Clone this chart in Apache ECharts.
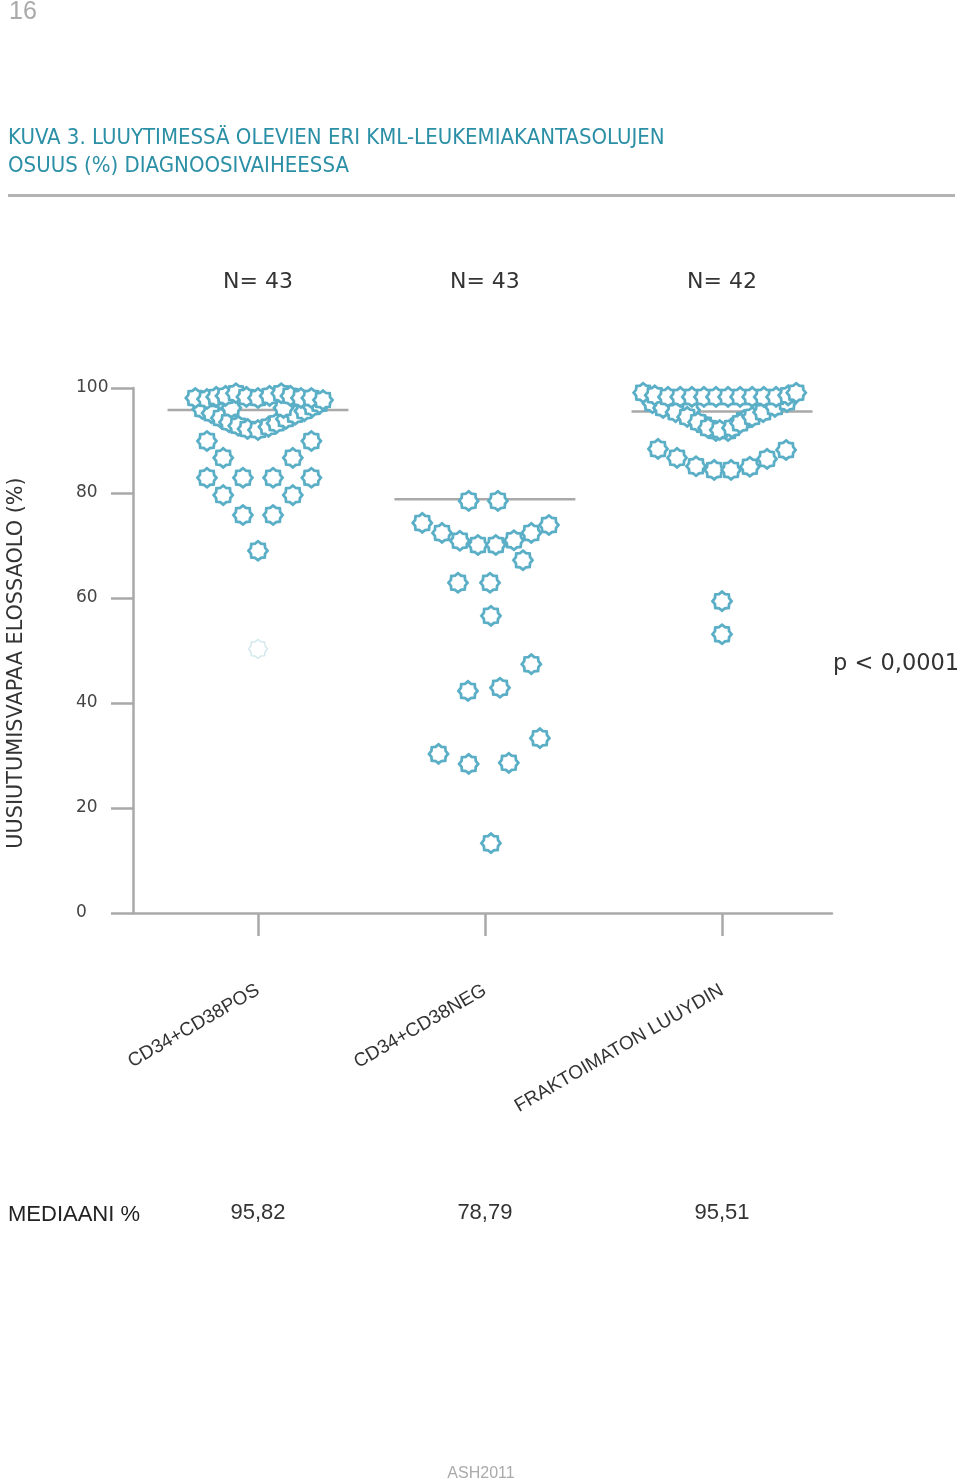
<!DOCTYPE html>
<html><head><meta charset="utf-8">
<script src="https://cdn.jsdelivr.net/npm/echarts@6/dist/echarts.min.js"></script>
<style>html,body{margin:0;padding:0;background:#fff}#c{width:960px;height:1483px}</style>
</head><body><div id="c"></div>
<script>
// ---------- data ----------
const categories = ['CD34+CD38POS', 'CD34+CD38NEG', 'FRAKTOIMATON LUUYDIN'];
const groupCenters = [1, 1.978, 3];
const nLabels = ['N= 43', 'N= 43', 'N= 42'];
const medians = [95.82, 78.79, 95.51];
const medianLabels = ['95,82', '78,79', '95,51'];
const yTicks = [0, 20, 40, 60, 80, 100];
const pValueText = 'p < 0,0001';
const pageNumber = '16';
const titleLines = ['KUVA 3. LUUYTIMESSÄ OLEVIEN ERI KML-LEUKEMIAKANTASOLUJEN', 'OSUUS (%) DIAGNOOSIVAIHEESSA'];
const yAxisTitle = 'UUSIUTUMISVAPAA ELOSSAOLO (%)';
const medianRowLabel = 'MEDIAANI %';
const sourceText = 'ASH2011';

// points: [horizontal jitter from group centre, value %]
const group1 = [
  [-0.22, 89.9], [0.23, 89.9], [-0.15, 86.7], [0.15, 86.7], [-0.22, 82.9], [-0.065, 82.9],
  [0.065, 82.9], [0.23, 82.9], [-0.15, 79.6], [0.15, 79.6], [-0.065, 75.8], [0.065, 75.8], [0, 69.0],
  [-0.24, 96.0], [-0.2, 95.2], [-0.16, 94.3], [-0.125, 93.5], [-0.085, 92.8], [-0.045, 92.2], [0, 92.0],
  [0.045, 92.6], [0.08, 93.3], [0.12, 94.1], [0.16, 94.9], [0.2, 95.6], [0.235, 96.4], [0.265, 97.0],
  [-0.115, 96.2], [0.11, 96.2],
  [-0.27, 98.1], [-0.22, 97.9], [-0.18, 98.3], [-0.14, 98.5], [-0.095, 99.0], [-0.05, 98.3], [0, 98.1],
  [0.05, 98.5], [0.1, 99.0], [0.14, 98.5], [0.185, 98.1], [0.23, 98.1], [0.28, 97.7]
];
const group1Faint = [[0, 50.3]];
const group2 = [
  [-0.07, 78.5], [0.056, 78.5], [-0.27, 74.3], [-0.185, 72.4], [-0.108, 70.9], [-0.03, 70.1],
  [0.047, 70.1], [0.125, 71.0], [0.2, 72.4], [0.276, 73.9], [0.164, 67.2], [-0.116, 62.9], [0.022, 62.9],
  [0.026, 56.6], [0.2, 47.4], [0.065, 42.9], [-0.073, 42.3], [0.237, 33.3], [-0.2, 30.3], [-0.07, 28.4],
  [0.103, 28.6], [0.026, 13.3]
];
const group3 = [
  [0, 59.4], [0, 53.1],
  [-0.276, 88.4], [-0.194, 86.7], [-0.112, 85.1], [-0.034, 84.4], [0.039, 84.4], [0.12, 85.0], [0.194, 86.5], [0.276, 88.2],
  [-0.078, 93.0], [-0.026, 91.8], [0.026, 91.8], [0.095, 93.9], [-0.138, 95.8],
  [-0.3, 97.1], [-0.254, 96.2], [-0.2, 95.4], [-0.15, 94.5], [-0.103, 93.5], [-0.06, 92.4], [-0.01, 92.0],
  [0.043, 92.4], [0.078, 93.3], [0.13, 94.5], [0.177, 95.4], [0.228, 96.4], [0.28, 97.3],
  [-0.34, 99.1], [-0.29, 98.6], [-0.233, 98.3], [-0.18, 98.3], [-0.13, 98.3], [-0.078, 98.3], [-0.026, 98.3],
  [0.026, 98.3], [0.078, 98.3], [0.13, 98.3], [0.18, 98.3], [0.233, 98.3], [0.285, 98.6], [0.32, 99.1]
];

// ---------- styling / build ----------
const TEAL = '#5aafc7';
const GREY = '#a9a9a9';
const medianHalfWidth = 0.39;
const SANS = '"Liberation Sans", Arial, sans-serif';
const DEJAVU = '"DejaVu Sans", sans-serif';

// 8-point star outline symbol
function starPath() {
  const pts = [];
  for (let i = 0; i < 16; i++) {
    const a = i * Math.PI / 8 - Math.PI / 2;
    const r = i % 2 === 0 ? 10 : 8.1;
    pts.push((10 + r * Math.cos(a)).toFixed(3) + ' ' + (10 + r * Math.sin(a)).toFixed(3));
  }
  return 'path://M' + pts.join(' L') + ' Z';
}
const STAR = starPath();

const groups = [group1, group2, group3];
const series = [];
medians.forEach((m, i) => {
  series.push({
    type: 'line', silent: true, symbol: 'none', z: 1,
    data: [[groupCenters[i] - medianHalfWidth, m], [groupCenters[i] + medianHalfWidth, m]],
    lineStyle: { color: GREY, width: 2.5 }
  });
});
groups.forEach((g, i) => {
  series.push({
    type: 'scatter', z: 3, symbol: STAR, symbolSize: 19, silent: true,
    data: g.map(p => [groupCenters[i] + p[0], p[1]]),
    itemStyle: { color: '#ffffff', borderColor: TEAL, borderWidth: 2.8, opacity: 1 }
  });
});
series.push({
  type: 'scatter', z: 2, symbol: STAR, symbolSize: 19, silent: true,
  data: group1Faint.map(p => [groupCenters[0] + p[0], p[1]]),
  itemStyle: { color: '#ffffff', borderColor: '#c6e1e9', borderWidth: 1.4 }
});

function nearestIdx(v) {
  let best = 0;
  groupCenters.forEach((c, i) => { if (Math.abs(c - v) < Math.abs(groupCenters[best] - v)) best = i; });
  return best;
}

const chart = echarts.init(document.getElementById('c'), null, { renderer: 'canvas' });
const option = {
  backgroundColor: '#ffffff',
  animation: false,
  grid: { left: 133, top: 388, width: 699, height: 525, containLabel: false, outerBoundsMode: 'none' },
  xAxis: {
    type: 'value', min: 0.4612, max: 3.474,
    splitLine: { show: false },
    axisLine: { show: true, onZero: false, lineStyle: { color: GREY, width: 2.5 } },
    axisTick: { show: true, customValues: groupCenters, length: 23, inside: false, lineStyle: { color: GREY, width: 2.5 } },
    axisLabel: {
      show: true, customValues: groupCenters, rotate: 30, margin: 76,
      fontFamily: SANS, fontSize: 19, color: '#333',
      formatter: v => categories[nearestIdx(v)]
    }
  },
  yAxis: {
    type: 'value', min: 0, max: 100, interval: 20,
    splitLine: { show: false },
    axisLine: { show: true, lineStyle: { color: GREY, width: 2.5 } },
    axisTick: { show: true, length: 22, lineStyle: { color: GREY, width: 2.5 } },
    axisLabel: {
      align: 'left', margin: 57, fontFamily: DEJAVU, fontSize: 17, color: '#444',
      formatter: v => yTicks.includes(v) ? String(v) : ''
    }
  },
  series: series
};
chart.setOption(option);

// text decorations positioned from the chart's own scale
const gfx = [];
gfx.push({ type: 'text', left: 9, top: 0, style: { text: pageNumber, font: '25px ' + SANS, fill: '#aaaaaa' } });
titleLines.forEach((t, i) => {
  gfx.push({ type: 'text', x: 8, y: 138 + i * 28, style: { text: t, font: '22px "Liberation Sans Narrow", "DejaVu Sans Condensed", sans-serif', fill: '#2b8fa6', textVerticalAlign: 'middle' } });
});
gfx.push({ type: 'rect', shape: { x: 8, y: 194, width: 947, height: 3 }, style: { fill: '#b3b3b3' } });
groupCenters.forEach((c, i) => {
  const px = chart.convertToPixel({ xAxisIndex: 0 }, c);
  gfx.push({ type: 'text', x: px, y: 282, style: { text: nLabels[i], font: '22px ' + DEJAVU, fill: '#333', textAlign: 'center', textVerticalAlign: 'middle' } });
  gfx.push({ type: 'text', x: px, y: 1213, style: { text: medianLabels[i], font: '22px ' + SANS, fill: '#333', textAlign: 'center', textVerticalAlign: 'middle' } });
});
gfx.push({ type: 'text', x: 833, y: 664, style: { text: pValueText, font: '22.5px ' + DEJAVU, fill: '#333', textVerticalAlign: 'middle' } });
gfx.push({ type: 'text', x: 17, y: 663, rotation: Math.PI / 2, style: { text: yAxisTitle, font: '20.8px ' + DEJAVU, fill: '#333', textAlign: 'center', textVerticalAlign: 'middle' } });
gfx.push({ type: 'text', x: 8, y: 1215, style: { text: medianRowLabel, font: '22px ' + SANS, fill: '#222', textVerticalAlign: 'middle' } });
gfx.push({ type: 'text', x: 481, y: 1474, style: { text: sourceText, font: '16px ' + SANS, fill: '#aaaaaa', textAlign: 'center', textVerticalAlign: 'middle' } });
chart.setOption({ graphic: gfx });
</script>
</body></html>
